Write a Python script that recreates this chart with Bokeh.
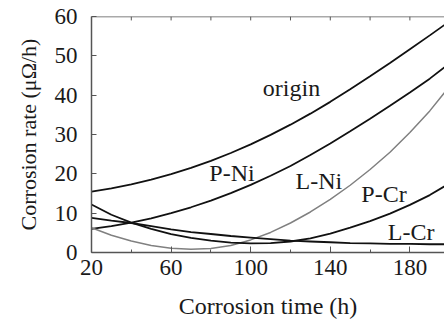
from bokeh.plotting import figure
from bokeh.models import FixedTicker, Range1d, Span
from bokeh.core.properties import value
from bokeh.embed import file_html
from bokeh.resources import INLINE

time_h = [20, 30, 40, 50, 60, 70, 80, 90, 100, 110, 120, 130, 140, 150, 160, 170, 180, 190, 200]
origin = [15.5, 16.3, 17.3, 18.5, 19.9, 21.5, 23.3, 25.3, 27.5, 29.9, 32.5, 35.3, 38.3, 41.5, 44.8, 48.2, 51.7, 55.2, 58.8]
p_ni = [6.0, 6.7, 7.6, 8.7, 10.0, 11.5, 13.2, 15.1, 17.2, 19.5, 22.0, 24.8, 27.7, 30.8, 34.0, 37.3, 40.7, 44.2, 48.1]
l_ni = [6.3, 4.4, 2.9, 1.8, 1.1, 0.8, 1.0, 1.8, 3.2, 5.1, 7.5, 10.3, 13.5, 17.1, 21.1, 25.5, 30.5, 36.0, 42.3]
p_cr = [12.2, 9.6, 7.6, 6.0, 4.7, 3.7, 3.0, 2.5, 2.3, 2.4, 2.8, 3.6, 4.8, 6.3, 8.0, 9.9, 12.1, 14.6, 17.6]
l_cr = [8.8, 8.1, 7.5, 6.7, 5.9, 5.2, 4.7, 4.2, 3.8, 3.4, 3.0, 2.8, 2.6, 2.4, 2.3, 2.2, 2.2, 2.1, 2.1]

label_text = ["origin", "P-Ni", "L-Ni", "P-Cr", "L-Cr"]
label_x = [120.5, 90.6, 134.3, 167.0, 180.6]
label_y = [41.7, 20.2, 18.3, 14.9, 5.2]

x_ticks = [20, 60, 100, 140, 180]
x_minor = [40, 80, 120, 160]
y_ticks = [0, 10, 20, 30, 40, 50, 60]
top_ticks = [40, 60, 80, 100, 120, 140, 160, 180]

FONT = "Liberation Serif"
AXIS_COLOR = "#555555"
TEXT_COLOR = "#1a1a1a"

p = figure(width=444, height=323, output_backend="svg", toolbar_location=None,
           x_range=Range1d(20, 197.4), y_range=Range1d(0, 60),
           min_border_left=91, min_border_right=0, min_border_top=16, min_border_bottom=71)
p.outline_line_color = None
p.xgrid.visible = False
p.ygrid.visible = False
p.background_fill_color = "white"
p.border_fill_color = "white"

xa = p.xaxis[0]
xa.ticker = FixedTicker(ticks=x_ticks, minor_ticks=x_minor)
xa.axis_label = "Corrosion time (h)"
ya = p.yaxis[0]
ya.ticker = FixedTicker(ticks=y_ticks, minor_ticks=[])
ya.axis_label = "Corrosion rate (μΩ/h)"

for ax in (xa, ya):
    ax.axis_line_color = AXIS_COLOR
    ax.axis_line_width = 1.5
    ax.major_tick_line_color = AXIS_COLOR
    ax.minor_tick_line_color = AXIS_COLOR
    ax.major_tick_out = 0
    ax.minor_tick_out = 0
    ax.major_label_text_font = FONT
    ax.major_label_text_font_size = "23px"
    ax.major_label_text_color = TEXT_COLOR
    ax.axis_label_text_font = FONT
    ax.axis_label_text_font_style = "normal"
    ax.axis_label_text_color = TEXT_COLOR

xa.major_tick_in = 6
xa.minor_tick_in = 3
xa.major_label_standoff = 7
xa.axis_label_text_font_size = "24px"
xa.axis_label_standoff = 15
ya.major_tick_in = 5
ya.minor_tick_in = 0
ya.major_label_standoff = 14
ya.axis_label_text_font_size = "22px"
ya.axis_label_standoff = 11

# top frame edge with small inward ticks
p.add_layout(Span(location=60, dimension="width", line_color=AXIS_COLOR, line_width=1.5))
tick_len = 1.0  # in data units (~4 px)
p.segment(x0=top_ticks, y0=[60] * len(top_ticks), x1=top_ticks,
          y1=[60 - tick_len] * len(top_ticks), line_color=AXIS_COLOR, line_width=1)

p.line(time_h, origin, line_color="#111111", line_width=1.8)
p.line(time_h, p_ni, line_color="#111111", line_width=1.8)
p.line(time_h, l_ni, line_color="#808080", line_width=1.5)
p.line(time_h, p_cr, line_color="#111111", line_width=1.8)
p.line(time_h, l_cr, line_color="#111111", line_width=1.8)

p.text(x=label_x, y=label_y, text=label_text, text_font=value(FONT), text_font_size="24px",
       text_align="center", text_baseline="middle", text_color=TEXT_COLOR)

open("out.html", "w").write(file_html(p, INLINE))
